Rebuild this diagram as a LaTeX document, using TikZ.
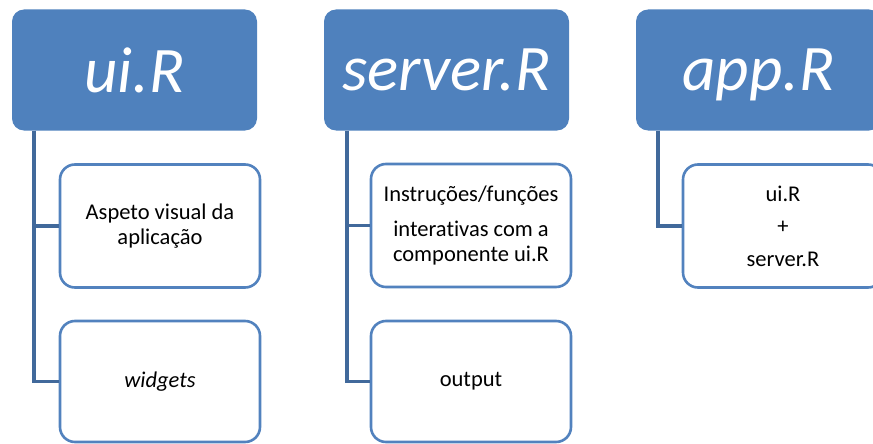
\documentclass[tikz,border=0pt]{standalone}
\usepackage{fontspec}
\setmainfont[Ligatures=NoCommon]{Carlito}
\definecolor{hdrblue}{HTML}{4F81BD}
\definecolor{boxblue}{HTML}{5282BE}
\definecolor{connblue}{HTML}{41699B}
\begin{document}
\begin{tikzpicture}[x=1pt,y=-1pt,
  hdr/.style={fill=hdrblue, draw=none, rounded corners=12pt, minimum width=245pt, minimum height=121pt,
    inner sep=0pt, text=white, font=\fontsize{65}{72}\selectfont\itshape, text depth=0pt},
  kid/.style={draw=boxblue, fill=white, line width=2.6pt, rounded corners=15pt, minimum width=200pt,
    minimum height=123pt, inner sep=0pt, align=center, font=\fontsize{22.5}{25.5}\selectfont},
  conn/.style={draw=connblue, line width=3.6pt}]
\useasboundingbox (0,0) rectangle (873,444);
\clip (0,0) rectangle (873,444);
% headers
\node[hdr] (h1) at (134.5,70) {ui.R};
\node[hdr] (h2) at (446.5,70) {server.R};
\node[hdr] (h3) at (758.5,70) {app.R};
% children
\node[kid] (u1) at (160,226) {Aspeto visual da\\aplicação};
\node[kid, minimum height=121pt] (u2) at (160,381.5) {\itshape widgets};
\node[kid] (s1) at (471,225.5) {Instruções/funções\\[9pt]interativas com a\\componente ui.R};
\node[kid, minimum height=121pt] (s2) at (471,381.5) {output};
\node[kid] (a1) at (783,226) {ui.R\\[7pt]+\\[7pt]server.R};
% connectors
\draw[conn] ([xshift=22pt]h1.south west) |- (u1.west);
\draw[conn] ([xshift=22pt]h1.south west) |- (u2.west);
\draw[conn] ([xshift=23pt]h2.south west) |- (s1.west);
\draw[conn] ([xshift=23pt]h2.south west) |- (s2.west);
\draw[conn] ([xshift=22pt]h3.south west) |- (a1.west);
\end{tikzpicture}
\end{document}
